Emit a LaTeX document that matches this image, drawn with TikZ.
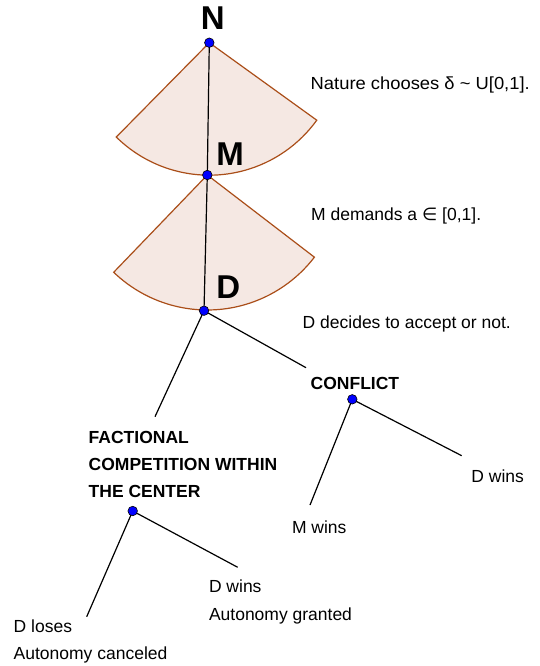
\documentclass[tikz,border=0pt]{standalone}
\usepackage{fontspec}
\setmainfont{Liberation Sans}
\newfontfamily\widefont[FakeStretch=1.05]{Liberation Sans}
\newfontfamily\symfont{DejaVu Sans}
\definecolor{sectorfill}{RGB}{245,232,227}
\definecolor{sectorline}{RGB}{170,78,25}
\definecolor{dotblue}{RGB}{0,0,255}
\pgfdeclarelayer{sectorlayer}
\pgfdeclarelayer{edgelayer}
\pgfsetlayers{sectorlayer,edgelayer,main}
\begin{document}
\begin{tikzpicture}[x=1pt,y=-1pt,
  dot/.style={circle,fill=dotblue,draw=black,line width=0.6pt,minimum size=9.5pt,inner sep=0pt},
  sector/.style={fill=sectorfill,draw=sectorline,line width=1.2pt},
  edge/.style={draw=black,line width=1.2pt},
  txt/.style={anchor=base west,inner sep=0pt,font=\fontsize{17.5}{20}\selectfont},
  btxt/.style={anchor=base west,inner sep=0pt,font=\fontsize{17.5}{20}\selectfont\bfseries},
  big/.style={inner sep=0pt,font=\fontsize{33}{36}\selectfont\bfseries}]
\useasboundingbox (0,0) rectangle (539,666);
% dots
\node[dot] (N) at (209.3,42.7) {};
\node[dot] (M) at (207.3,175) {};
\node[dot] (D) at (204,310.7) {};
\node[dot] (C) at (352.3,399.3) {};
\node[dot] (F) at (132.7,511) {};
% sectors
\begin{pgfonlayer}{sectorlayer}
\path[sector] (N.center) -- ++(134.6:132.5) arc[start angle=134.6,end angle=35.8,radius=132.5] -- cycle;
\path[sector] (M.center) -- ++(133.9:135) arc[start angle=133.9,end angle=37.5,radius=135] -- cycle;
\end{pgfonlayer}
% free ends
\coordinate (DtoF) at (155,416.7);
\coordinate (DtoC) at (306,367.7);
\coordinate (FL) at (86.7,616.7);
\coordinate (FR) at (237.7,567.3);
\coordinate (CL) at (310,505);
\coordinate (CR) at (461.7,455.7);
% connectors
\begin{pgfonlayer}{edgelayer}
\draw[edge] (N.center) -- (M.center);
\draw[edge] (M.center) -- (D.center);
\draw[edge] (D.center) -- (DtoF);
\draw[edge] (D.center) -- (DtoC);
\draw[edge] (F.center) -- (FL);
\draw[edge] (F.center) -- (FR);
\draw[edge] (C.center) -- (CL);
\draw[edge] (C.center) -- (CR);
\end{pgfonlayer}
% big labels
\node[big] (labN) at (212.8,18.3) {N};
\node[big] (labM) at (230,154) {M};
\node[big] (labD) at (228.3,287) {D};
% texts
\node[txt] (t1) at (310.5,90) {\widefont Nature chooses δ \char"007E{} U[0,1].};
\node[txt] (t2) at (311,220) {M demands a {\symfont ∈} [0,1].};
\node[txt] (t3) at (302.5,328.3) {D decides to accept or not.};
\node[btxt] (conf) at (310.5,389.3) {CONFLICT};
\node[btxt] (f1) at (88.5,443.3) {FACTIONAL};
\node[btxt] (f2) at (88.5,470.7) {COMPETITION WITHIN};
\node[btxt] (f3) at (88.5,497.3) {THE CENTER};
\node[txt] (dl1) at (13.5,632.3) {D loses};
\node[txt] (dl2) at (13.5,659.3) {Autonomy canceled};
\node[txt] (dw1) at (208.8,592.7) {D wins};
\node[txt] (dw2) at (208.8,620) {Autonomy granted};
\node[txt] (mw) at (291.8,533.3) {M wins};
\node[txt] (dw3) at (471.2,482) {D wins};
\end{tikzpicture}
\end{document}
